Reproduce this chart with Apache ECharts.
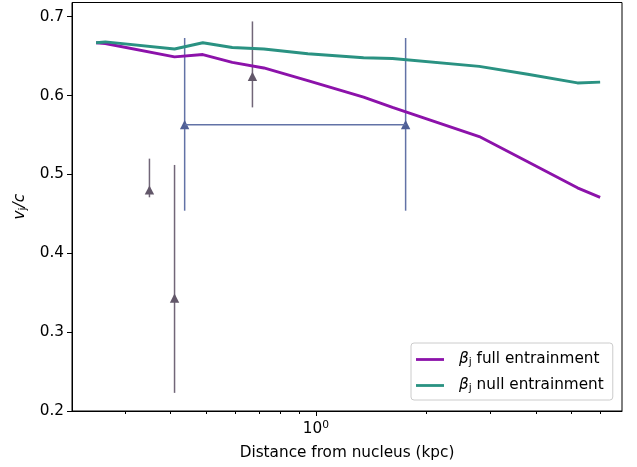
<!DOCTYPE html>
<html>
<head>
<meta charset="utf-8">
<script src="https://cdn.jsdelivr.net/npm/echarts@6/dist/echarts.min.js"></script>
<style>
  html, body { margin: 0; padding: 0; background: #ffffff; }
  #chart { width: 637px; height: 467px; }
</style>
</head>
<body>
<div id="chart"></div>
<script>
// Model jet speed along the jet (kpc from the nucleus)
const distKpc  = [0.25, 0.265, 0.41, 0.49, 0.59, 0.72, 0.95, 1.35, 1.62, 2.8, 3.8, 5.2, 6.0];
const betaFull = [0.667, 0.666, 0.649, 0.652, 0.642, 0.635, 0.619, 0.598, 0.585, 0.548, 0.516, 0.483, 0.471];
const betaNull = [0.667, 0.668, 0.659, 0.667, 0.661, 0.659, 0.653, 0.648, 0.647, 0.637, 0.627, 0.616, 0.617];

// Single-knot measurements: distance, speed, lower and upper error
const obsDist = [0.35, 0.41, 0.67];
const obsBeta = [0.480, 0.343, 0.624];
const obsLow  = [0.471, 0.223, 0.585];
const obsHigh = [0.520, 0.512, 0.694];

// Measurement spanning a distance range (both ends marked)
const rangeDist = [0.437, 1.76];
const rangeBeta = [0.563, 0.563];
const rangeLow  = [0.454, 0.454];
const rangeHigh = [0.673, 0.673];

// Axis ticks
const xMajorTicks = [1];
const xMinorTicks = [0.3, 0.4, 0.5, 0.6, 0.7, 0.8, 0.9, 2, 3, 4, 5, 6];
const yTicks = [0.2, 0.3, 0.4, 0.5, 0.6, 0.7];

const X_MIN = Math.pow(10, -0.668);
const X_MAX = Math.pow(10, 0.838);
const FONT = 'DejaVu Sans';
const FS = 15.28;
const FS_SMALL = 10.7;

const zip = (xs, ...cols) => xs.map((x, i) => [x, ...cols.map(c => c[i])]);

function errorBarItem(barColor, markColor) {
  return function (params, api) {
    const x = api.value(0), y = api.value(1), lo = api.value(2), hi = api.value(3);
    const top = api.coord([x, hi]);
    const bot = api.coord([x, lo]);
    const c = api.coord([x, y]);
    return {
      type: 'group',
      children: [
        { type: 'line', shape: { x1: top[0], y1: top[1], x2: bot[0], y2: bot[1] },
          style: { stroke: barColor, lineWidth: 1.5 } },
        { type: 'polygon',
          shape: { points: [[c[0], c[1] - 4.8], [c[0] - 4.7, c[1] + 4.4], [c[0] + 4.7, c[1] + 4.4]] },
          style: { fill: markColor } }
      ]
    };
  };
}

const chart = echarts.init(document.getElementById('chart'), null, { renderer: 'canvas' });

const legendRich = {
  g: { width: 10 },
  b: { fontFamily: FONT, fontSize: FS, fontStyle: 'italic', color: '#000' },
  s: { fontFamily: FONT, fontSize: FS_SMALL, color: '#000', padding: [6, 0, 0, 0] },
  t: { fontFamily: FONT, fontSize: FS, color: '#000' }
};

chart.setOption({
  backgroundColor: '#ffffff',
  animation: false,
  textStyle: { fontFamily: FONT },
  grid: {
    left: 72, right: 15, top: 2.5, bottom: 56,
    show: true, borderColor: '#000', borderWidth: 1, backgroundColor: 'transparent'
  },
  legend: {
    orient: 'vertical',
    left: 411, top: 343,
    data: ['full', 'null'],
    icon: 'rect',
    itemWidth: 28, itemHeight: 2.8, itemGap: 10,
    padding: [9, 9, 6, 5],
    backgroundColor: 'rgba(255,255,255,0.8)',
    borderColor: '#cccccc', borderWidth: 1, borderRadius: 3,
    formatter: function (name) {
      return '{g|}{b|β}{s|j}{t| ' + name + ' entrainment}';
    },
    textStyle: { rich: legendRich }
  },
  xAxis: [
    {
      type: 'log', logBase: 10, min: X_MIN, max: X_MAX, position: 'bottom',
      axisLine: { lineStyle: { color: '#000', width: 1 } },
      axisTick: { customValues: xMajorTicks, length: 5, lineStyle: { color: '#000' } },
      axisLabel: {
        customValues: xMajorTicks, margin: 9,
        formatter: function () { return '{b|10}{s|0}'; },
        rich: {
          b: { fontFamily: FONT, fontSize: FS, color: '#000' },
          s: { fontFamily: FONT, fontSize: FS_SMALL, color: '#000', padding: [0, 0, 8, 0] }
        }
      },
      splitLine: { show: false },
      name: 'Distance from nucleus (kpc)',
      nameLocation: 'middle', nameGap: 35,
      nameTextStyle: { fontFamily: FONT, fontSize: FS, color: '#000' }
    },
    {
      type: 'log', logBase: 10, min: X_MIN, max: X_MAX, position: 'bottom',
      axisLine: { show: false },
      axisTick: { customValues: xMinorTicks, length: 3, lineStyle: { color: '#000' } },
      axisLabel: { show: false },
      splitLine: { show: false }
    }
  ],
  yAxis: {
    type: 'value', min: 0.2, max: 0.718,
    axisLine: { show: true, lineStyle: { color: '#000', width: 1 } },
    axisTick: { show: true, customValues: yTicks, length: 5, lineStyle: { color: '#000' } },
    axisLabel: {
      customValues: yTicks, margin: 8,
      fontFamily: FONT, fontSize: FS, color: '#000',
      formatter: v => v.toFixed(1)
    },
    splitLine: { show: false },
    name: '{i|v}{s|j}{i|/c}',
    nameLocation: 'middle', nameRotate: 90, nameGap: 40,
    nameTextStyle: {
      rich: {
        i: { fontFamily: FONT, fontSize: FS, fontStyle: 'italic', color: '#000' },
        s: { fontFamily: FONT, fontSize: FS_SMALL, color: '#000', padding: [6, 0, 0, 0] }
      }
    }
  },
  series: [
    {
      name: 'obs', type: 'custom', xAxisIndex: 0, z: 1,
      renderItem: errorBarItem('#716678', '#625769'),
      encode: { x: 0, y: 1 },
      data: zip(obsDist, obsBeta, obsLow, obsHigh)
    },
    {
      name: 'range-link', type: 'line', xAxisIndex: 0, z: 1,
      data: zip(rangeDist, rangeBeta),
      symbol: 'none', silent: true,
      lineStyle: { color: '#6272a6', width: 1.5 }
    },
    {
      name: 'range', type: 'custom', xAxisIndex: 0, z: 1,
      renderItem: errorBarItem('#6272a6', '#4f5f96'),
      encode: { x: 0, y: 1 },
      data: zip(rangeDist, rangeBeta, rangeLow, rangeHigh)
    },
    {
      name: 'full', type: 'line', xAxisIndex: 0, z: 3,
      data: zip(distKpc, betaFull),
      symbol: 'none', color: '#8c12aa',
      lineStyle: { color: '#8c12aa', width: 2.9 }
    },
    {
      name: 'null', type: 'line', xAxisIndex: 0, z: 3,
      data: zip(distKpc, betaNull),
      symbol: 'none', color: '#2a9282',
      lineStyle: { color: '#2a9282', width: 2.9 }
    }
  ]
});
</script>
</body>
</html>
